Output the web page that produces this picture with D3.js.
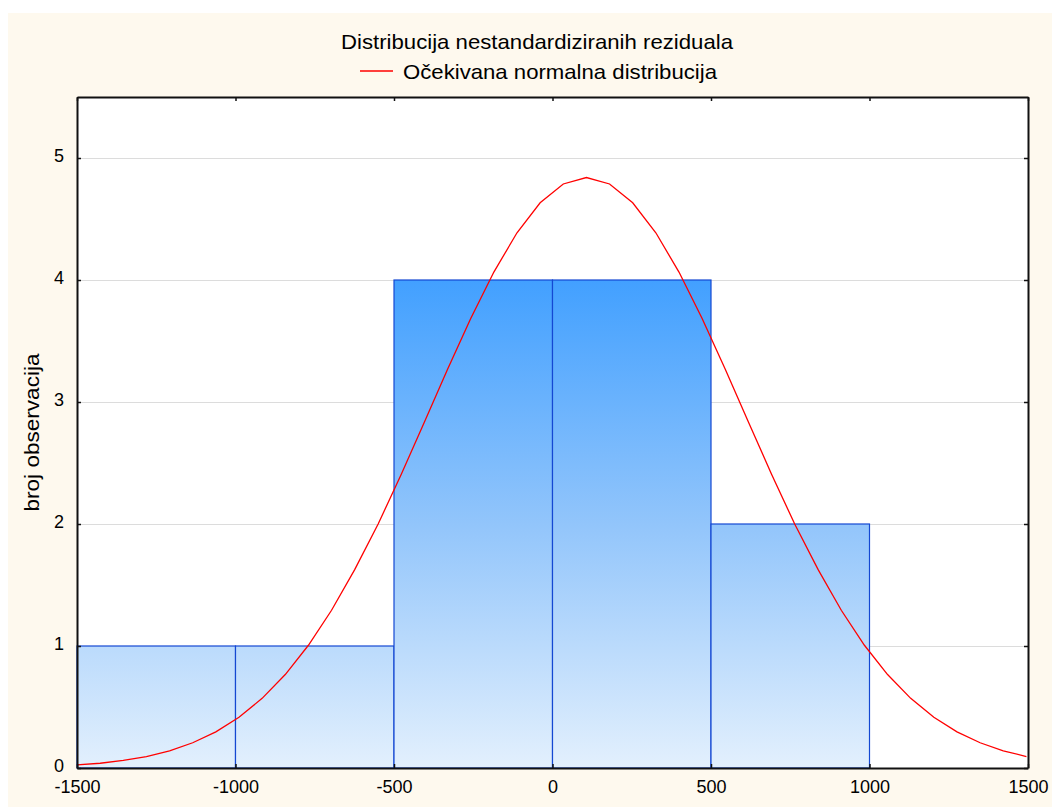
<!DOCTYPE html>
<html>
<head>
<meta charset="utf-8">
<script src="https://cdn.jsdelivr.net/npm/d3@7"></script>
<style>
  html, body { margin: 0; padding: 0; background: #ffffff; }
  svg { display: block; }
  text { font-family: "Liberation Sans", Arial, sans-serif; fill: #000; }
</style>
</head>
<body>
<svg id="chart" width="1052" height="807"></svg>
<script>
// Histogram of residuals: bin edges and counts
const binEdges = [-1500, -1000, -500, 0, 500, 1000];
const binCounts = [1, 1, 4, 4, 2];
const binWidth = 500;

// Expected normal distribution, sampled points
const curveX = [-1500, -1427, -1354, -1281, -1208, -1135, -1062, -989, -916, -843,
  -770, -697, -624, -550, -477, -404, -331, -258, -185, -112, -39, 34, 107, 180,
  253, 326, 399, 472, 545, 618, 691, 764, 838, 911, 984, 1057, 1130, 1203, 1276,
  1349, 1422, 1495];
const curveY = [0.025, 0.039, 0.062, 0.094, 0.141, 0.207, 0.296, 0.416, 0.571, 0.766,
  1.006, 1.293, 1.626, 2.000, 2.408, 2.836, 3.268, 3.685, 4.065, 4.387, 4.633, 4.787,
  4.84, 4.787, 4.633, 4.387, 4.065, 3.685, 3.268, 2.836, 2.408, 2.000, 1.626, 1.293,
  1.006, 0.766, 0.571, 0.416, 0.296, 0.207, 0.141, 0.094];

const xTicks = [-1500, -1000, -500, 0, 500, 1000, 1500];
const yTicks = [0, 1, 2, 3, 4, 5];

const titleText = "Distribucija nestandardiziranih reziduala";
const legendText = "Očekivana normalna distribucija";
const yLabel = "broj observacija";

const svg = d3.select("#chart");
const W = 1052, H = 807;
const plot = { left: 77, right: 1028, top: 97, bottom: 768 };

// Page background
svg.append("rect").attr("x", 8).attr("y", 13).attr("width", W - 8).attr("height", H - 13)
  .attr("fill", "#fef9ee");

const x = d3.scaleLinear().domain([-1500, 1500]).range([plot.left, plot.right]);
const y = d3.scaleLinear().domain([0, 5.5]).range([plot.bottom, plot.top]);

// Plot area
svg.append("rect")
  .attr("x", plot.left).attr("y", plot.top)
  .attr("width", plot.right - plot.left).attr("height", plot.bottom - plot.top)
  .attr("fill", "#ffffff");

// Horizontal gridlines
svg.append("g").selectAll("line").data(yTicks.filter(d => d > 0)).join("line")
  .attr("x1", plot.left).attr("x2", plot.right)
  .attr("y1", d => y(d) + 0.5).attr("y2", d => y(d) + 0.5)
  .attr("stroke", "#dcdcdc").attr("stroke-width", 1);

// Bar gradient spanning the value range 0..4
const defs = svg.append("defs");
const grad = defs.append("linearGradient").attr("id", "barGrad")
  .attr("gradientUnits", "userSpaceOnUse")
  .attr("x1", 0).attr("x2", 0)
  .attr("y1", y(0)).attr("y2", y(4));
grad.append("stop").attr("offset", "0%").attr("stop-color", "#e3f0fd");
grad.append("stop").attr("offset", "50%").attr("stop-color", "#92c5fb");
grad.append("stop").attr("offset", "100%").attr("stop-color", "#42a0ff");

const bins = binCounts.map((c, i) => ({ x0: binEdges[i], x1: binEdges[i] + binWidth, count: c }));

svg.append("g").selectAll("rect").data(bins).join("rect")
  .attr("x", d => x(d.x0))
  .attr("y", d => y(d.count))
  .attr("width", d => x(d.x1) - x(d.x0))
  .attr("height", d => y(0) - y(d.count))
  .attr("fill", "url(#barGrad)")
  .attr("stroke", "#1448d2")
  .attr("stroke-width", 1.2);

// Normal curve
const curvePts = curveX.map((v, i) => [v, curveY[i]]);
svg.append("path").datum(curvePts)
  .attr("d", d3.line().x(d => x(d[0])).y(d => y(d[1])))
  .attr("fill", "none").attr("stroke", "#ff0000").attr("stroke-width", 1.3);

// Axes (plain hyphen for negative numbers)
const fmt = d => String(d);
const axisBottom = d3.axisBottom(x).tickValues(xTicks).tickSizeInner(-4).tickSizeOuter(0).tickPadding(12)
  .tickFormat(fmt);
const axisTop = d3.axisTop(x).tickValues(xTicks).tickSizeInner(-4).tickSizeOuter(0).tickFormat("");
const axisLeft = d3.axisLeft(y).tickValues(yTicks).tickSizeInner(-4).tickSizeOuter(0).tickPadding(13)
  .tickFormat(fmt);
const axisRight = d3.axisRight(y).tickValues(yTicks).tickSizeInner(-4).tickSizeOuter(0).tickFormat("");

function styleAxis(g) {
  g.select(".domain").attr("stroke", "#111").attr("stroke-width", 2);
  g.selectAll(".tick line").attr("stroke", "#111").attr("stroke-width", 1.5);
  g.selectAll(".tick text").attr("font-size", 18).attr("fill", "#000")
    .attr("font-family", "'Liberation Sans', Arial, sans-serif");
}

svg.append("g").attr("transform", `translate(0,${plot.bottom})`).call(axisBottom).call(styleAxis);
svg.append("g").attr("transform", `translate(0,${plot.top})`).call(axisTop).call(styleAxis);
svg.append("g").attr("transform", `translate(${plot.left},0)`).call(axisLeft).call(styleAxis)
  .selectAll(".tick text").attr("dy", "0.2em");
svg.append("g").attr("transform", `translate(${plot.right},0)`).call(axisRight).call(styleAxis);

// Title and legend
svg.append("text").attr("x", 537).attr("y", 49).attr("text-anchor", "middle")
  .attr("font-size", 21).attr("textLength", 392).attr("lengthAdjust", "spacingAndGlyphs")
  .text(titleText);

const legendG = svg.append("g");
legendG.append("text").attr("x", 403).attr("y", 79)
  .attr("font-size", 21).attr("textLength", 314).attr("lengthAdjust", "spacingAndGlyphs")
  .text(legendText);
legendG.append("line").attr("x1", 360).attr("x2", 393).attr("y1", 71).attr("y2", 71)
  .attr("stroke", "#ff0000").attr("stroke-width", 1.5);

// Y axis label
svg.append("text")
  .attr("transform", `translate(39,${(plot.top + plot.bottom) / 2}) rotate(-90)`)
  .attr("text-anchor", "middle").attr("font-size", 21)
  .attr("textLength", 158).attr("lengthAdjust", "spacingAndGlyphs")
  .text(yLabel);
</script>
</body>
</html>
